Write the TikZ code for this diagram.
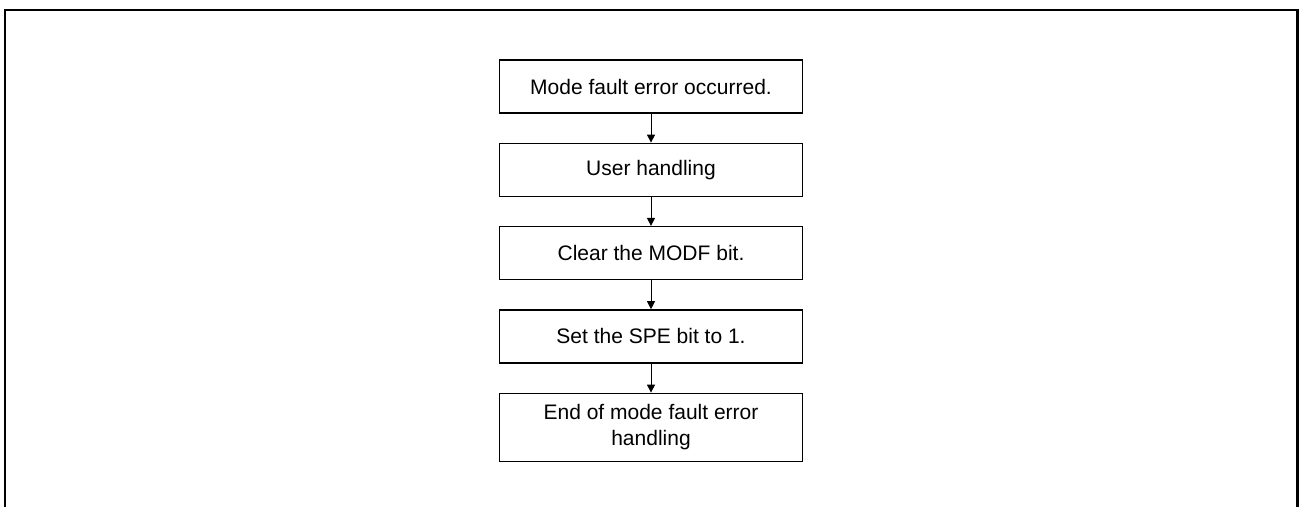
\documentclass[tikz,border=0pt]{standalone}
\usepackage{fontspec}
\setmainfont{Liberation Sans}
\usetikzlibrary{arrows.meta}
\begin{document}
\begin{tikzpicture}[x=1pt,y=-1pt,
  stepbox/.style={draw,line width=1.4pt,minimum width=303pt,inner sep=0pt,align=center,font=\fontsize{21}{26.5}\selectfont},
  flow/.style={line width=1pt,-{Triangle[length=8pt,width=8pt]}}]
\useasboundingbox (0,0) rectangle (1300,506);
\begin{scope}
\clip (0,0) rectangle (1300,506);
\draw[line width=2.4pt] (5,520) -- (5,10) -- (1297.5,10) -- (1297.5,520);
\end{scope}
\node[stepbox,minimum height=53pt] (s1) at (651,86.5) {Mode fault error occurred.};
\node[stepbox,minimum height=53pt] (s2) at (651,169.8) {User handling};
\node[stepbox,minimum height=53pt] (s3) at (651,253.1) {Clear the MODF bit.};
\node[stepbox,minimum height=53pt] (s4) at (651,336.4) {Set the SPE bit to 1.};
\node[stepbox,minimum height=68pt] (s5) at (651,427.3) {End of mode fault error\\handling};
\draw[flow] (s1) -- (s2);
\draw[flow] (s2) -- (s3);
\draw[flow] (s3) -- (s4);
\draw[flow] (s4) -- (s5);
\end{tikzpicture}
\end{document}
